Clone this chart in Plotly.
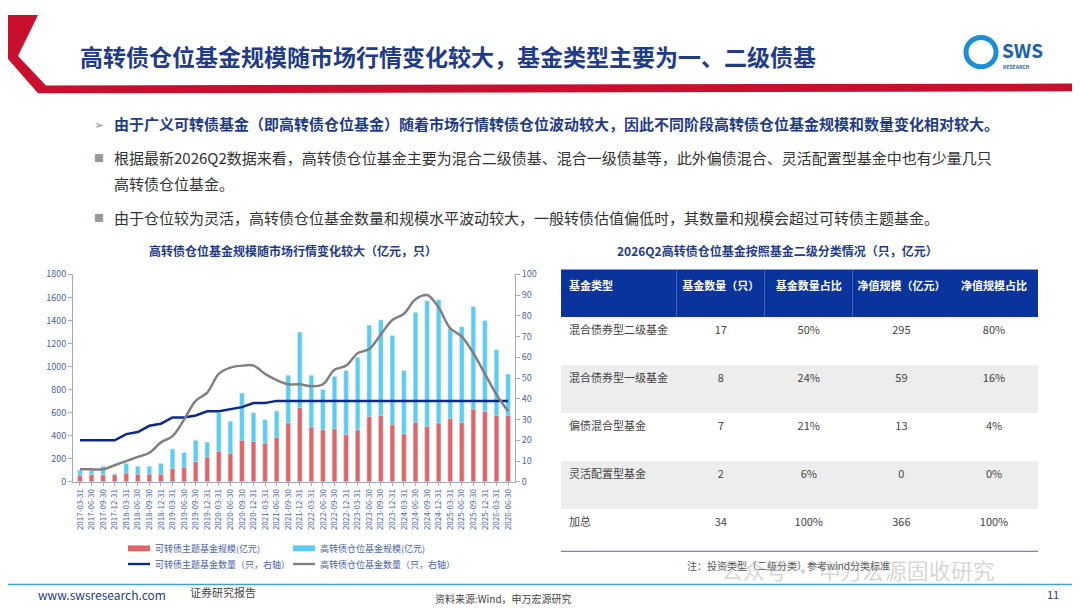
import plotly.graph_objects as go

W, H = 1080, 608

quarters = []
for yr in range(2017, 2027):
    for q in ['03-31', '06-30', '09-30', '12-31']:
        quarters.append(f'{yr}-{q}')
quarters = quarters[:38]

theme_scale = [55, 60, 60, 60, 75, 65, 65, 65, 115, 125, 175, 215, 265, 245, 360, 350, 335, 385, 510, 645,
               475, 450, 460, 410, 450, 565, 575, 495, 415, 515, 480, 510, 550, 515, 630, 610, 575, 575]
high_scale = [100, 100, 135, 70, 160, 135, 135, 160, 285, 255, 360, 345, 600, 525, 770, 600, 540, 615, 925, 1300,
              925, 800, 915, 965, 1080, 1360, 1405, 1270, 965, 1470, 1570, 1580, 1330, 1345, 1520, 1400, 1145, 935]
theme_count = [20, 20, 20, 20, 23, 24, 27, 28, 31, 31, 32, 34, 34, 35, 36, 38, 38, 39, 39, 39,
               39, 39, 39, 39, 39, 39, 39, 39, 39, 39, 39, 39, 39, 39, 39, 39, 39, 39]
high_count = [6, 6, 6, 8, 10, 12, 14, 19, 22, 30, 39, 43, 52, 55, 56, 56, 52, 49, 47, 47,
              46, 47, 54, 56, 62, 64, 71, 78, 81, 88, 90, 84, 74, 70, 62, 52, 42, 34]

tbl_header = ['基金类型', '基金数量（只）', '基金数量占比', '净值规模（亿元）', '净值规模占比']
tbl_types = ['混合债券型二级基金', '混合债券型一级基金', '偏债混合型基金', '灵活配置型基金', '加总']
tbl_num = ['17', '8', '7', '2', '34']
tbl_num_pct = ['50%', '24%', '21%', '6%', '100%']
tbl_nav = ['295', '59', '13', '0', '366']
tbl_nav_pct = ['80%', '16%', '4%', '0%', '100%']

NAVY = '#1f3c88'
AXC = '#4a64a8'
FONT = 'Noto Sans CJK SC'


def px(x):
    return x / W


def py(y):
    return 1 - y / H


fig = go.Figure()
fig.add_trace(go.Bar(x=quarters, y=high_scale, marker_color='#5bcdf2', width=0.4, name='高转债仓位基金规模(亿元)'))
fig.add_trace(go.Bar(x=quarters, y=theme_scale, marker_color='#e06666', width=0.4, name='可转债主题基金规模(亿元)'))
fig.add_trace(go.Scatter(x=quarters, y=theme_count, yaxis='y2', mode='lines',
                         line=dict(color='#0a2a8a', width=2.5), name='可转债主题基金数量'))
fig.add_trace(go.Scatter(x=quarters, y=high_count, yaxis='y2', mode='lines', line_shape='spline',
                         line=dict(color='#808080', width=2.5), name='高转债仓位基金数量'))

fig.add_trace(go.Table(
    domain=dict(x=[px(553), px(1030)], y=[py(548), py(260)]),
    columnwidth=[125, 95, 95, 105, 95],
    header=dict(values=[f'<b>{h}</b>' for h in tbl_header], fill_color='#0a349c',
                font=dict(color='white', size=11, family=FONT), height=48,
                align=['left', 'center', 'center', 'center', 'center'], line_width=0),
    cells=dict(values=[tbl_types, tbl_num, tbl_num_pct, tbl_nav, tbl_nav_pct],
               fill_color=[['white', '#ededed', 'white', '#ededed', 'white']] * 5,
               font=dict(color='#444444', size=11, family=FONT), height=48,
               align=['left', 'center', 'center', 'center', 'center'], line_width=0),
))

shapes = [
    # red header decoration
    dict(type='path', xref='paper', yref='paper', fillcolor='#c8102e', line_width=0,
         path=f'M {px(0)},{py(0)} L {px(30)},{py(0)} L {px(10)},{py(42)} L {px(38)},{py(72)} '
              f'L {px(1080)},{py(70)} L {px(1080)},{py(78)} L {px(30)},{py(80)} L {px(0)},{py(45)} Z'),
    dict(type='line', xref='paper', yref='paper', x0=0, x1=1, y0=py(582), y1=py(582),
         line=dict(color='#3aa6d8', width=1.5)),
    dict(type='line', xref='paper', yref='paper', x0=px(553), x1=px(1030), y0=py(548), y1=py(548),
         line=dict(color='#4a64a8', width=1)),
    dict(type='circle', xref='paper', yref='paper', x0=px(958), x1=px(988), y0=py(53), y1=py(23),
         line=dict(color='#1a8fd8', width=5)),
]

legend_items = [
    (120, 545, '#e06666', 'bar', '可转债主题基金规模(亿元)'),
    (285, 545, '#5bcdf2', 'bar', '高转债仓位基金规模(亿元)'),
    (120, 561, '#0a2a8a', 'line', '可转债主题基金数量（只，右轴）'),
    (285, 561, '#808080', 'line', '高转债仓位基金数量（只，右轴）'),
]
ann = []
for x, y, c, kind, t in legend_items:
    h = 3 if kind == 'bar' else 1.2
    shapes.append(dict(type='rect', xref='paper', yref='paper', x0=px(x), x1=px(x + 22),
                       y0=py(y + h), y1=py(y - h), fillcolor=c, line_width=0))
    ann.append(dict(x=px(x + 25), y=py(y), text=t, xanchor='left', font=dict(size=9, color=AXC)))


def note(x, y, text, size=14, color='#333333', anchor='left', bold=False):
    ann.append(dict(x=px(x), y=py(y), text=f'<b>{text}</b>' if bold else text, xanchor=anchor,
                    font=dict(size=size, color=color)))


note(70, 42, '高转债仓位基金规模随市场行情变化较大，基金类型主要为一、二级债基', 23, NAVY, bold=True)
note(992, 35, 'SWS', 19, '#1a5fb4', bold=True)
note(993, 53, 'RESEARCH', 5, '#1a5fb4', bold=True)
note(84, 111, '➢', 12, '#999999')
note(104, 111, '由于广义可转债基金（即高转债仓位基金）随着市场行情转债仓位波动较大，因此不同阶段高转债仓位基金规模和数量变化相对较大。', 15, NAVY, bold=True)
note(84, 146, '■', 10, '#999999')
note(104, 146, '根据最新2026Q2数据来看，高转债仓位基金主要为混合二级债基、混合一级债基等，此外偏债混合、灵活配置型基金中也有少量几只', 15)
note(104, 172, '高转债仓位基金。', 15)
note(84, 207, '■', 10, '#999999')
note(104, 207, '由于仓位较为灵活，高转债仓位基金数量和规模水平波动较大，一般转债估值偏低时，其数量和规模会超过可转债主题基金。', 15)
note(285, 241, '高转债仓位基金规模随市场行情变化较大（亿元，只）', 12, NAVY, 'center', True)
note(770, 241, '2026Q2高转债仓位基金按照基金二级分类情况（只，亿元）', 12, NAVY, 'center', True)
note(780, 563, '注：投资类型（二级分类）参考wind分类标准', 10, '#555555', 'center')
note(850, 566, '公众号 · 申万宏源固收研究', 22, 'rgba(150,150,150,0.4)', 'center')
note(28, 592, 'www.swsresearch.com', 12, NAVY)
note(180, 590, '证券研究报告', 11, '#444444')
note(495, 596, '资料来源:Wind，申万宏源研究', 10, '#444444', 'center')
note(1045, 592, '11', 11, NAVY, 'center')

for a in ann:
    a.update(xref='paper', yref='paper', showarrow=False, yanchor='middle')

axis_common = dict(showline=True, linecolor='#a0aac8', ticks='outside', ticklen=4, tickcolor='#a0aac8',
                   showgrid=False, tickfont=dict(size=9, color=AXC), zeroline=False)
fig.update_layout(
    width=W, height=H, margin=dict(l=0, r=0, t=0, b=0),
    paper_bgcolor='white', plot_bgcolor='white', showlegend=False,
    font=dict(family=FONT), barmode='overlay',
    xaxis=dict(domain=[px(65), px(507)], anchor='y', type='category', tickangle=-90,
               tickfont=dict(size=8, color=AXC),
               showline=True, linecolor='#a0aac8', ticks='outside', ticklen=3, tickcolor='#a0aac8',
               tickmode='array', tickvals=quarters, range=[-0.6, 37.6]),
    yaxis=dict(domain=[py(477), py(265)], range=[0, 1800], dtick=200, **axis_common),
    yaxis2=dict(overlaying='y', side='right', range=[0, 100], dtick=10, anchor='x', **axis_common),
    shapes=shapes, annotations=ann,
)

fig.write_html('out.html')
